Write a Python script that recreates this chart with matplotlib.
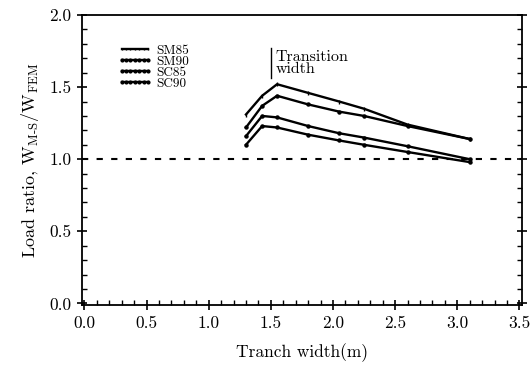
import matplotlib
matplotlib.use("Agg")
import matplotlib.pyplot as plt
from matplotlib.ticker import MultipleLocator

plt.rcParams['font.family'] = ['cmr10', 'DejaVu Serif']
plt.rcParams['mathtext.fontset'] = 'cm'
plt.rcParams['axes.formatter.use_mathtext'] = True

widths = [1.3, 1.43, 1.55, 1.8, 2.05, 2.25, 2.6, 3.1]
labels = ["SM85", "SM90", "SC85", "SC90"]
sm85 = [1.31, 1.44, 1.52, 1.46, 1.40, 1.35, 1.24, 1.14]
sm90 = [1.22, 1.37, 1.44, 1.38, 1.33, 1.30, 1.23, 1.14]
sc85 = [1.16, 1.30, 1.29, 1.23, 1.18, 1.15, 1.09, 1.00]
sc90 = [1.10, 1.23, 1.22, 1.17, 1.13, 1.10, 1.05, 0.98]
series = [sm85, sm90, sc85, sc90]
markers = ["|", "o", "o", "o"]

fig = plt.figure(figsize=(5.32, 3.75), dpi=100)
ax = fig.add_axes([0.154, 0.187, 0.827, 0.773])

for lab, ys, m in zip(labels, series, markers):
    ax.plot(widths, ys, color='black', lw=1.7, marker=m, ms=2.2, mew=1.0, label=lab)

ax.axhline(1.0, color='black', lw=1.5, ls=(0, (3, 4)))

ax.plot([1.5, 1.5], [1.56, 1.77], color='black', lw=1.0)
ax.text(1.54, 1.665, "Transition\nwidth", fontsize=11.5, va='center', ha='left', linespacing=0.85)

ax.set_xlim(-0.02, 3.52)
ax.set_ylim(-0.01, 2.0)
ax.xaxis.set_major_locator(MultipleLocator(0.5))
ax.xaxis.set_minor_locator(MultipleLocator(0.1))
ax.yaxis.set_major_locator(MultipleLocator(0.5))
ax.yaxis.set_minor_locator(MultipleLocator(0.1))
ax.xaxis.set_major_formatter(matplotlib.ticker.FormatStrFormatter('%.1f'))
ax.yaxis.set_major_formatter(matplotlib.ticker.FormatStrFormatter('%.1f'))
ax.tick_params(which='major', direction='inout', length=7, width=1.2, labelsize=12.5, right=True, top=False, pad=4)
ax.tick_params(which='minor', direction='in', length=3.5, width=1.0, right=True)
for s in ax.spines.values():
    s.set_linewidth(1.3)

ax.set_xlabel("Tranch width(m)", fontsize=12.5, labelpad=9)
ax.set_ylabel(r"Load ratio, W$_{\rm M\text{-}S}$/W$_{\rm FEM}$", fontsize=13, labelpad=6)

leg = ax.legend(loc='upper left', bbox_to_anchor=(0.06, 0.93), frameon=False, fontsize=9.5,
                handlelength=2.6, handletextpad=0.3, labelspacing=-0.1, numpoints=7, borderpad=0.2,
                markerscale=0.9)

fig.savefig("out.png", dpi=100)
